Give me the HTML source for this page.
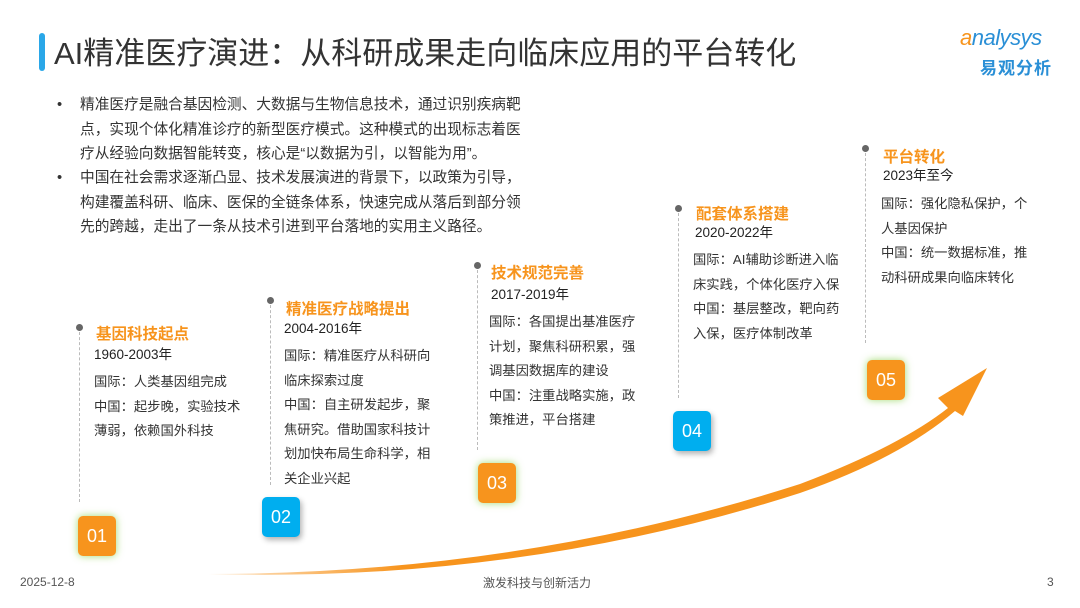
<!DOCTYPE html>
<html><head><meta charset="utf-8"><style>
*{margin:0;padding:0;box-sizing:border-box}
body{width:1080px;height:608px;background:#fff;position:relative;overflow:hidden;font-family:"Liberation Sans","Noto Sans CJK SC",sans-serif;color:#333}
.a{position:absolute;white-space:nowrap}
.t{font-size:15.5px;font-weight:bold;color:#f7941d}
.y{font-size:13.5px;color:#222}
.b{font-size:13.3px;color:#333;line-height:24.6px}
.dot{position:absolute;width:7px;height:7px;border-radius:50%;background:#666}
.dl{position:absolute;width:0;border-left:1px dashed #bbb}
.box{position:absolute;width:38px;height:40px;border-radius:5px;color:#fff;font-size:18px;text-align:center;line-height:40px}
.o{background:#f7941d;box-shadow:0 0 8px rgba(140,210,80,.8)}
.bl{background:#00aeef;box-shadow:2px 3px 6px rgba(0,0,0,.3)}
.bul{font-size:14.7px;line-height:24.5px;color:#333}
</style></head><body>
<div class="a" style="left:39px;top:33px;width:6px;height:38px;background:#2aa7e8;border-radius:3px"></div>
<div class="a" style="left:54px;top:28px;font-size:31px;color:#333">AI精准医疗演进：从科研成果走向临床应用的平台转化</div>
<div class="a" style="left:960px;top:25px;font-size:22px;color:#2a8fd6;font-style:italic;letter-spacing:-0.5px"><span style="color:#f7941d">a</span>nalysys</div>
<div class="a" style="left:980px;top:54px;font-size:17px;font-weight:bold;color:#2a8fd6;letter-spacing:1px">易观分析</div>

<div class="a bul" style="left:57px;top:93px">•</div>
<div class="a bul" style="left:80px;top:93px">精准医疗是融合基因检测、大数据与生物信息技术，通过识别疾病靶<br>点，实现个体化精准诊疗的新型医疗模式。这种模式的出现标志着医<br>疗从经验向数据智能转变，核心是“以数据为引，以智能为用”。</div>
<div class="a bul" style="left:57px;top:166px">•</div>
<div class="a bul" style="left:80px;top:166px">中国在社会需求逐渐凸显、技术发展演进的背景下，以政策为引导，<br>构建覆盖科研、临床、医保的全链条体系，快速完成从落后到部分领<br>先的跨越，走出了一条从技术引进到平台落地的实用主义路径。</div>

<svg class="a" style="left:0;top:0" width="1080" height="608">
<defs><linearGradient id="g" x1="0" x2="1"><stop offset="0" stop-color="#f7941d" stop-opacity=".2"/><stop offset=".25" stop-color="#f7941d"/><stop offset="1" stop-color="#f7941d"/></linearGradient></defs>
<path d="M208,574 Q520,574 800,484 Q900,446 948,408 L938,398 L987,368 L963,416 L955,411 Q900,458 800,493 Q520,583 208,574 Z" fill="url(#g)"/>
</svg>

<div class="dl" style="left:79px;top:327px;height:175px"></div><div class="dot" style="left:76px;top:324px"></div>
<div class="a t" style="left:96px;top:322px">基因科技起点</div>
<div class="a y" style="left:94px;top:343px">1960-2003年</div>
<div class="a b" style="left:94px;top:370px">国际：人类基因组完成<br>中国：起步晚，实验技术<br>薄弱，依赖国外科技</div>
<div class="box o" style="left:78px;top:516px">01</div>

<div class="dl" style="left:270px;top:300px;height:185px"></div><div class="dot" style="left:267px;top:297px"></div>
<div class="a t" style="left:286px;top:297px">精准医疗战略提出</div>
<div class="a y" style="left:284px;top:317px">2004-2016年</div>
<div class="a b" style="left:284px;top:344px">国际：精准医疗从科研向<br>临床探索过度<br>中国：自主研发起步，聚<br>焦研究。借助国家科技计<br>划加快布局生命科学，相<br>关企业兴起</div>
<div class="box bl" style="left:262px;top:497px">02</div>

<div class="dl" style="left:477px;top:265px;height:185px"></div><div class="dot" style="left:474px;top:262px"></div>
<div class="a t" style="left:491px;top:261px">技术规范完善</div>
<div class="a y" style="left:491px;top:283px">2017-2019年</div>
<div class="a b" style="left:489px;top:310px">国际：各国提出基准医疗<br>计划，聚焦科研积累，强<br>调基因数据库的建设<br>中国：注重战略实施，政<br>策推进，平台搭建</div>
<div class="box o" style="left:478px;top:463px">03</div>

<div class="dl" style="left:678px;top:208px;height:190px"></div><div class="dot" style="left:675px;top:205px"></div>
<div class="a t" style="left:696px;top:202px">配套体系搭建</div>
<div class="a y" style="left:695px;top:221px">2020-2022年</div>
<div class="a b" style="left:693px;top:248px">国际：AI辅助诊断进入临<br>床实践，个体化医疗入保<br>中国：基层整改，靶向药<br>入保，医疗体制改革</div>
<div class="box bl" style="left:673px;top:411px">04</div>

<div class="dl" style="left:865px;top:148px;height:195px"></div><div class="dot" style="left:862px;top:145px"></div>
<div class="a t" style="left:883px;top:145px">平台转化</div>
<div class="a y" style="left:883px;top:164px">2023年至今</div>
<div class="a b" style="left:881px;top:192px">国际：强化隐私保护，个<br>人基因保护<br>中国：统一数据标准，推<br>动科研成果向临床转化</div>
<div class="box o" style="left:867px;top:360px">05</div>

<div class="a" style="left:20px;top:575px;font-size:12px;color:#555">2025-12-8</div>
<div class="a" style="left:483px;top:574px;font-size:12px;color:#555">激发科技与创新活力</div>
<div class="a" style="left:1047px;top:575px;font-size:12px;color:#555">3</div>
</body></html>
